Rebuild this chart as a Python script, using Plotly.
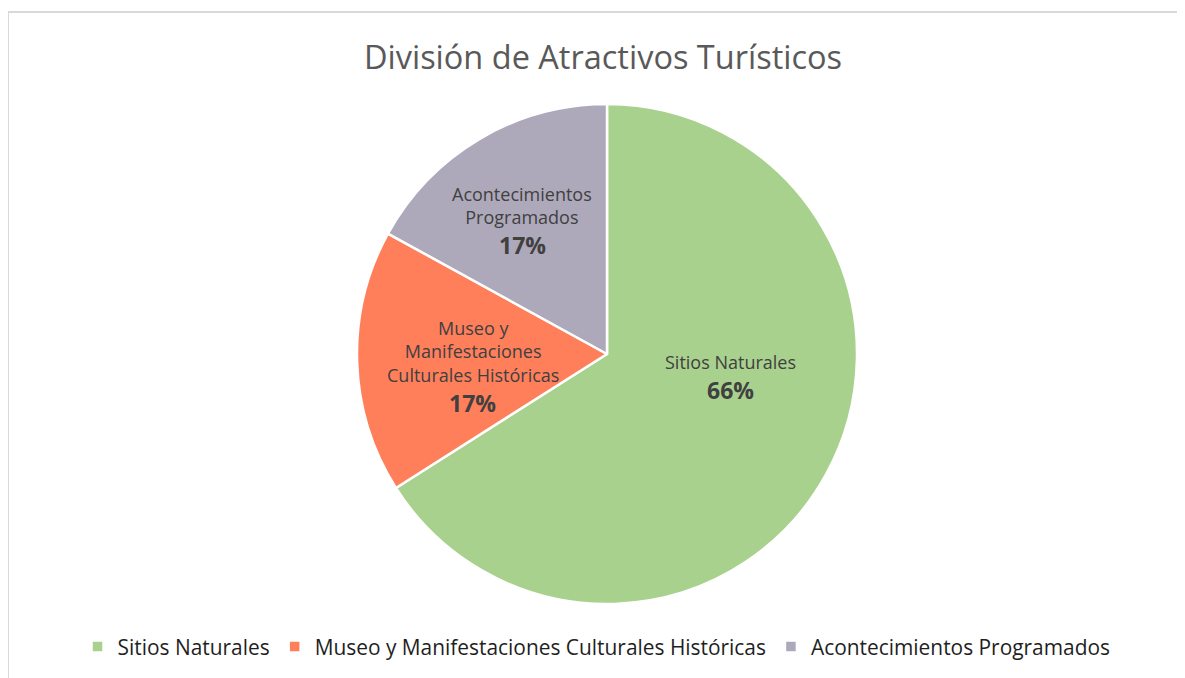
import math
import plotly.graph_objects as go

categories = ["Sitios Naturales", "Museo y Manifestaciones Culturales Históricas", "Acontecimientos Programados"]
label_text = ["Sitios Naturales", "Museo y<br>Manifestaciones<br>Culturales Históricas", "Acontecimientos<br>Programados"]
values = [66, 17, 17]
colors = ["#A9D18E", "#FF7F5B", "#ADA9BB"]

# page body has an 8px margin, so the figure is sized to fill the rest of the window
W, H = 1177, 670
CX, CY, R = 599, 346, 250  # pie centre / radius in figure pixels

# label placement (radial fraction and angular nudge, Excel "best fit" look)
label_r = [0.516, 0.571, 0.553]
label_shift = [-12.6, -18.1, -7.1]

fig = go.Figure(go.Pie(
    labels=categories,
    values=values,
    sort=False,
    direction="clockwise",
    rotation=0,
    marker=dict(colors=colors, line=dict(color="white", width=2.5)),
    textinfo="none",
    hoverinfo="label+percent",
    domain=dict(x=[(CX - R) / W, (CX + R) / W], y=[1 - (CY + R) / H, 1 - (CY - R) / H]),
))

total = sum(values)
annotations = []
cum = 0
for i, v in enumerate(values):
    mid = (cum + v / 2) / total * 360
    cum += v
    ang = math.radians(mid + label_shift[i])
    px = CX + R * label_r[i] * math.sin(ang)
    py = CY - R * label_r[i] * math.cos(ang)  # screen y (down)
    pct = round(v / total * 100)
    annotations.append(dict(
        x=px / W, y=1 - py / H, xref="paper", yref="paper",
        xanchor="center", yanchor="middle", showarrow=False,
        text=f"<b>{pct}%</b>",
        font=dict(family="Open Sans", size=23, color="#404040"),
    ))
    annotations.append(dict(
        x=px / W, y=1 - (py - 14) / H, xref="paper", yref="paper",
        xanchor="center", yanchor="bottom", showarrow=False, align="center",
        text=label_text[i],
        font=dict(family="Open Sans", size=18, color="#404040"),
    ))

fig.update_layout(
    width=W, height=H,
    margin=dict(l=0, r=0, t=0, b=0),
    paper_bgcolor="white",
    title=dict(text="División de Atractivos Turísticos", x=595 / W, xanchor="center",
               y=1 - 50 / H, yanchor="middle",
               font=dict(family="Open Sans", size=32.5, color="#595959")),
    legend=dict(orientation="h", x=0.5, xanchor="center", y=1 - 639 / H, yanchor="middle",
                font=dict(family="Open Sans", size=20.9, color="#1f1f1f"),
                itemclick=False),
    annotations=annotations,
    shapes=[dict(type="rect", xref="paper", yref="paper", x0=0, x1=1.02,
                 y0=-0.02, y1=1 - 4 / H, line=dict(color="#D9D9D9", width=2),
                 fillcolor="rgba(0,0,0,0)", layer="below")],
)

fig.write_html("out.html")
